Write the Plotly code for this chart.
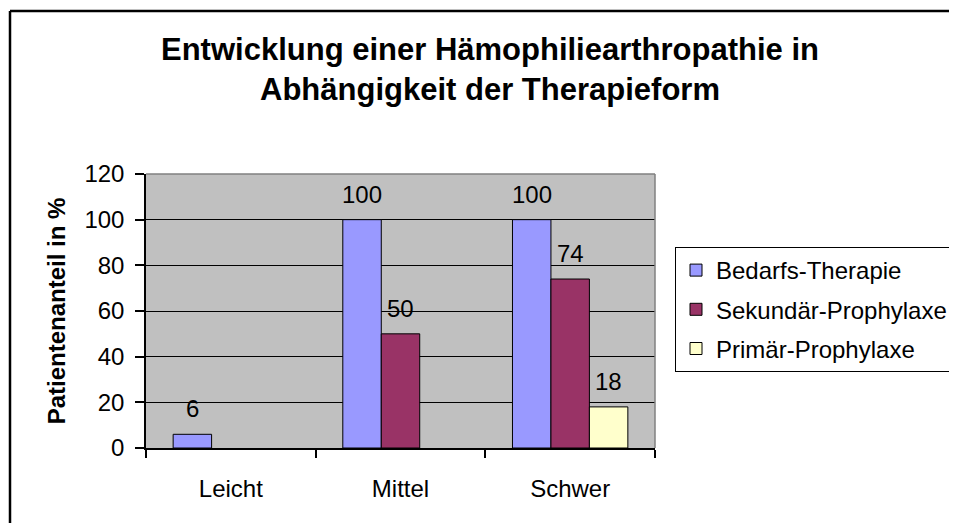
import plotly.graph_objects as go

categories = ["Leicht", "Mittel", "Schwer"]
series_names = ["Bedarfs-Therapie", "Sekundär-Prophylaxe", "Primär-Prophylaxe"]
bedarfs = [6, 100, 100]
sekundaer = [None, 50, 74]
primaer = [None, None, 18]
y_ticks = [0, 20, 40, 60, 80, 100, 120]

series_values = [bedarfs, sekundaer, primaer]
colors = ["#9999FF", "#993366", "#FFFFCC"]

# page is rendered with the default 8px body margin -> compensate
OFF = 8
PAGE_W, PAGE_H = 957, 523
W, H = PAGE_W, PAGE_H - OFF   # figure may run past the right window edge (legend is clipped there)
# plot area in page pixels
PL, PR, PT, PB = 146, 655, 174, 448
ML, MR, MT, MB = PL - OFF, W - (PR - OFF), PT - OFF, H - (PB - OFF)
PW, PH = W - ML - MR, H - MT - MB
BARGAP = 0.32
FONT = "Liberation Sans, Arial, sans-serif"

def px_x(p):  # page px -> paper
    return (p - OFF - ML) / PW

def px_y(p):
    return (H - MB - (p - OFF)) / PH

fig = go.Figure()
for name, vals, col in zip(series_names, series_values, colors):
    fig.add_trace(go.Bar(
        name=name, x=categories, y=vals,
        marker=dict(color=col, line=dict(color="black", width=1)),
        legendgroup=name,
    ))

# data labels above bars
bar_w = PW / len(categories) * (1 - BARGAP) / len(series_values)
annotations = []
for i, vals in enumerate(series_values):
    for cat, v in zip(categories, vals):
        if v is None:
            continue
        annotations.append(dict(
            x=cat, y=v, xref="x", yref="y", text=str(v), showarrow=False,
            xshift=(i - (len(series_values) - 1) / 2) * bar_w,
            yanchor="bottom", yshift=10,
            font=dict(family=FONT, size=24, color="black"),
        ))

shapes = [
    # outer chart border (left and top visible)
    dict(type="line", xref="paper", yref="paper", x0=px_x(10), x1=px_x(PAGE_W + 20),
         y0=px_y(11), y1=px_y(11), line=dict(color="black", width=2.5)),
    dict(type="line", xref="paper", yref="paper", x0=px_x(10), x1=px_x(10),
         y0=px_y(11), y1=px_y(PAGE_H + 5), line=dict(color="black", width=2.5)),
    # plot area border top / right (gray)
    dict(type="line", xref="paper", yref="paper", x0=0, x1=1, y0=1, y1=1,
         line=dict(color="#808080", width=1.5)),
    dict(type="line", xref="paper", yref="paper", x0=1, x1=1, y0=0, y1=1,
         line=dict(color="#808080", width=1.5)),
]

fig.update_layout(
    width=W, height=H,
    margin=dict(l=ML, r=MR, t=MT, b=MB),
    paper_bgcolor="white", plot_bgcolor="#C0C0C0",
    barmode="group", bargap=BARGAP, bargroupgap=0,
    font=dict(family=FONT, size=24, color="black"),
    title=dict(
        text="Entwicklung einer Hämophiliearthropathie in<br>Abhängigkeit der Therapieform",
        font=dict(family=FONT, size=31, color="black", weight="bold"),
        x=(490 - OFF) / W, xref="container", xanchor="center",
        y=1 - 52 / H, yref="container", yanchor="middle",
    ),
    xaxis=dict(
        showgrid=False, showline=True, linecolor="black", linewidth=1.5,
        ticks="outside", tickson="boundaries", ticklen=8, tickcolor="black", tickwidth=1.5,
        ticklabelstandoff=18,
        tickfont=dict(family=FONT, size=24, color="black"),
    ),
    yaxis=dict(
        range=[0, 120], tickvals=y_ticks, showgrid=True, gridcolor="black", gridwidth=1,
        showline=True, linecolor="black", linewidth=1.5, zeroline=False,
        ticks="outside", ticklen=9, tickcolor="black", tickwidth=1.5,
        ticklabelstandoff=6,
        tickfont=dict(family=FONT, size=24, color="black"),
        title=dict(text="Patientenanteil in %", standoff=12,
                   font=dict(family=FONT, size=24, color="black", weight="bold")),
    ),
    legend=dict(
        x=px_x(675), y=px_y(247), xanchor="left", yanchor="top",
        bgcolor="white", bordercolor="black", borderwidth=1,
        font=dict(family=FONT, size=24, color="black"),
        tracegroupgap=5, itemwidth=30,
    ),
    annotations=annotations,
    shapes=shapes,
)

fig.write_html("out.html")
